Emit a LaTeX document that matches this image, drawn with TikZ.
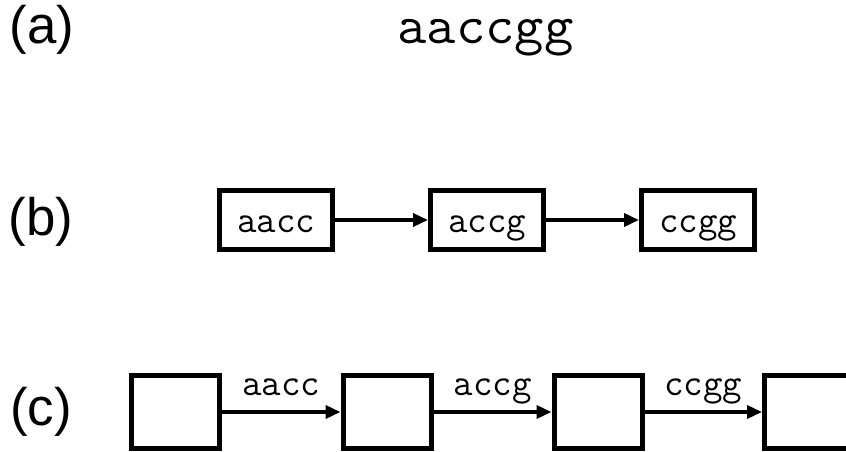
\documentclass[tikz,border=0pt]{standalone}
\usepackage{fontspec}
\setmainfont{Liberation Sans}
\usetikzlibrary{arrows.meta}
\begin{document}
\begin{tikzpicture}[x=1bp,y=-1bp,
  panel/.style={font=\fontsize{53}{56}\selectfont, inner sep=0pt},
  seq/.style={font=\ttfamily\fontsize{38}{42}\selectfont},
  kbox/.style={draw, line width=5bp, minimum width=113bp, minimum height=59bp,
    inner sep=0pt, seq, text height=26.5bp, text depth=2bp},
  vbox/.style={draw, line width=5bp, minimum width=88bp, minimum height=73bp,
    inner sep=0pt},
  edge/.style={line width=3.5bp, -{Triangle[length=15bp,width=13bp]}},
  elabel/.style={seq, above=15bp, inner sep=0pt, text depth=0pt}]
\useasboundingbox (0,0) rectangle (846,452);
\fill[white] (0,0) rectangle (846,452);

% panel labels
\node[panel] (la) at (42,30) {(a)};
\node[panel] (lb) at (41,222) {(b)};
\node[panel] (lc) at (41,412) {(c)};

% (a) the sequence
\node[font=\ttfamily\fontsize{55}{58}\selectfont, anchor=base, inner sep=0pt,
  xscale=1.04] (s) at (485.5,44) {aaccgg};

% (b) k-mers as nodes
\node[kbox] (b1) at (276,220) {aacc};
\node[kbox] (b2) at (487,220) {accg};
\node[kbox] (b3) at (698,220) {ccgg};
\draw[edge] (b1) -- (b2);
\draw[edge] (b2) -- (b3);

% (c) k-mers as edges
\node[vbox] (c1) at (175.5,412) {};
\node[vbox] (c2) at (387,412) {};
\node[vbox] (c3) at (598,412) {};
\node[vbox] (c4) at (808.5,412) {};
\draw[edge] (c1) -- node[elabel] {aacc} (c2);
\draw[edge] (c2) -- node[elabel] {accg} (c3);
\draw[edge] (c3) -- node[elabel] {ccgg} (c4);
\end{tikzpicture}
\end{document}
